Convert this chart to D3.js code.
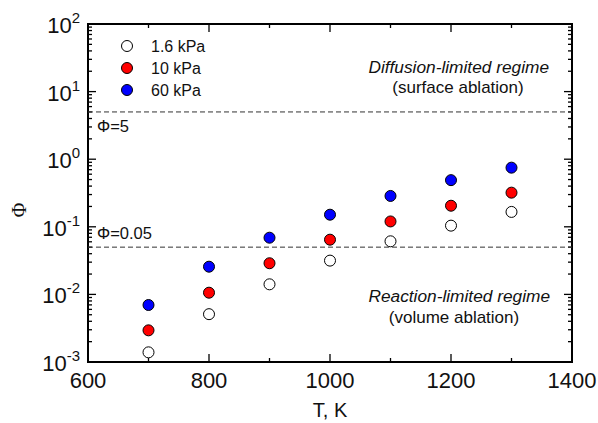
<!DOCTYPE html>
<html>
<head>
<meta charset="utf-8">
<script src="https://cdn.jsdelivr.net/npm/d3@7"></script>
<style>
  body { margin: 0; background: #fff; }
  text { font-family: Arial, "Liberation Sans", sans-serif; fill: #111; }
</style>
</head>
<body>
<div id="chart"></div>
<script>
// data
var temps = [700, 800, 900, 1000, 1100, 1200, 1300];
var phi16 = [0.00139, 0.0051, 0.0141, 0.0316, 0.061, 0.104, 0.166];
var phi10 = [0.00294, 0.0106, 0.0289, 0.0645, 0.12, 0.205, 0.32];
var phi60 = [0.00697, 0.0257, 0.069, 0.151, 0.286, 0.49, 0.75];
var seriesNames = ["1.6 kPa", "10 kPa", "60 kPa"];
var seriesColors = ["#ffffff", "#ff0000", "#0000ff"];
var xTicks = [600, 800, 1000, 1200, 1400];
var xMinor = [700, 900, 1100, 1300];
var yExps = [-3, -2, -1, 0, 1, 2];
var limits = [5, 0.05];

var width = 598, height = 423;
var margin = {left: 88, right: 26, top: 24, bottom: 61};

var svg = d3.select("#chart").append("svg")
    .attr("width", width)
    .attr("height", height);

var x = d3.scaleLinear().domain([600, 1400]).range([margin.left, width - margin.right]);
var y = d3.scaleLog().domain([1e-3, 1e2]).range([height - margin.bottom, margin.top]);

var x0 = x.range()[0], x1 = x.range()[1];
var y0 = y.range()[0], y1 = y.range()[1];

// minor y ticks (2..9 per decade)
var yMinor = [];
yExps.slice(0, -1).forEach(function (e) {
    for (var k = 2; k <= 9; k++) yMinor.push(k * Math.pow(10, e));
});

var ticks = svg.append("g").attr("stroke", "#000").attr("stroke-width", 1.3);

// y ticks on left and right, pointing inward
yExps.forEach(function (e) {
    var v = Math.pow(10, e);
    ticks.append("line").attr("x1", x0).attr("x2", x0 + 8).attr("y1", y(v)).attr("y2", y(v));
    ticks.append("line").attr("x1", x1).attr("x2", x1 - 8).attr("y1", y(v)).attr("y2", y(v));
});
yMinor.forEach(function (v) {
    ticks.append("line").attr("x1", x0).attr("x2", x0 + 4).attr("y1", y(v)).attr("y2", y(v));
    ticks.append("line").attr("x1", x1).attr("x2", x1 - 4).attr("y1", y(v)).attr("y2", y(v));
});

// x ticks on bottom and top, pointing inward
xTicks.forEach(function (v) {
    ticks.append("line").attr("x1", x(v)).attr("x2", x(v)).attr("y1", y0).attr("y2", y0 - 8);
    ticks.append("line").attr("x1", x(v)).attr("x2", x(v)).attr("y1", y1).attr("y2", y1 + 8);
});
xMinor.forEach(function (v) {
    ticks.append("line").attr("x1", x(v)).attr("x2", x(v)).attr("y1", y0).attr("y2", y0 - 4);
    ticks.append("line").attr("x1", x(v)).attr("x2", x(v)).attr("y1", y1).attr("y2", y1 + 4);
});

// frame
svg.append("rect")
    .attr("x", x0).attr("y", y1)
    .attr("width", x1 - x0).attr("height", y0 - y1)
    .attr("fill", "none").attr("stroke", "#000").attr("stroke-width", 2);

// x tick labels
svg.append("g").selectAll("text")
    .data(xTicks)
    .enter()
    .append("text")
    .attr("x", function (d) { return x(d); })
    .attr("y", y0 + 26)
    .attr("text-anchor", "middle")
    .style("font-size", "22px")
    .text(function (d) { return d; });

// y tick labels 10^n
var yl = svg.append("g").selectAll("text")
    .data(yExps)
    .enter()
    .append("text")
    .attr("x", x0 - 8)
    .attr("y", function (d) { return y(Math.pow(10, d)) + 9; })
    .attr("text-anchor", "end");
yl.append("tspan").style("font-size", "22px").text("10");
yl.append("tspan").style("font-size", "15px").attr("dy", -10).text(function (d) { return d; });

// axis titles
svg.append("text")
    .attr("x", (x0 + x1) / 2)
    .attr("y", 417)
    .attr("text-anchor", "middle")
    .style("font-size", "20px")
    .text("T, K");

svg.append("text")
    .attr("transform", "translate(26," + ((y0 + y1) / 2 + 17) + ") rotate(-90)")
    .attr("text-anchor", "middle")
    .style("font-size", "20px")
    .style("font-family", "'Times New Roman', 'Liberation Serif', serif")
    .text("Φ");

// regime limit lines
svg.append("g").selectAll("line")
    .data(limits)
    .enter()
    .append("line")
    .attr("x1", x0).attr("x2", x1)
    .attr("y1", function (d) { return y(d); })
    .attr("y2", function (d) { return y(d); })
    .attr("stroke", "#333")
    .attr("stroke-width", 1)
    .attr("stroke-dasharray", "5,3");

svg.append("text").attr("x", x0 + 9).attr("y", y(5) + 20)
    .style("font-size", "16.5px").text("Φ=5");
svg.append("text").attr("x", x0 + 9).attr("y", y(0.05) - 8)
    .style("font-size", "16.5px").text("Φ=0.05");

// regime annotations
svg.append("text").attr("x", 549).attr("y", 73).attr("text-anchor", "end")
    .style("font-size", "17.3px").style("font-style", "italic")
    .text("Diffusion-limited regime");
svg.append("text").attr("x", 458).attr("y", 93).attr("text-anchor", "middle")
    .style("font-size", "17px")
    .text("(surface ablation)");
svg.append("text").attr("x", 550).attr("y", 302).attr("text-anchor", "end")
    .style("font-size", "17.3px").style("font-style", "italic")
    .text("Reaction-limited regime");
svg.append("text").attr("x", 454).attr("y", 323).attr("text-anchor", "middle")
    .style("font-size", "17px")
    .text("(volume ablation)");

// data points
var series = [phi16, phi10, phi60];
series.forEach(function (vals, i) {
    svg.append("g").selectAll("circle")
        .data(vals)
        .enter()
        .append("circle")
        .attr("cx", function (d, j) { return x(temps[j]); })
        .attr("cy", function (d) { return y(d); })
        .attr("r", 5.5)
        .attr("fill", seriesColors[i])
        .attr("stroke", "#000")
        .attr("stroke-width", 1);
});

// legend
var legend = svg.append("g").selectAll("g")
    .data(seriesNames)
    .enter()
    .append("g")
    .attr("transform", function (d, i) { return "translate(127," + (46 + i * 22) + ")"; });
legend.append("circle")
    .attr("r", 5.5)
    .attr("fill", function (d, i) { return seriesColors[i]; })
    .attr("stroke", "#000");
legend.append("text")
    .attr("x", 24).attr("y", 6)
    .style("font-size", "16px")
    .text(function (d) { return d; });
</script>
</body>
</html>
